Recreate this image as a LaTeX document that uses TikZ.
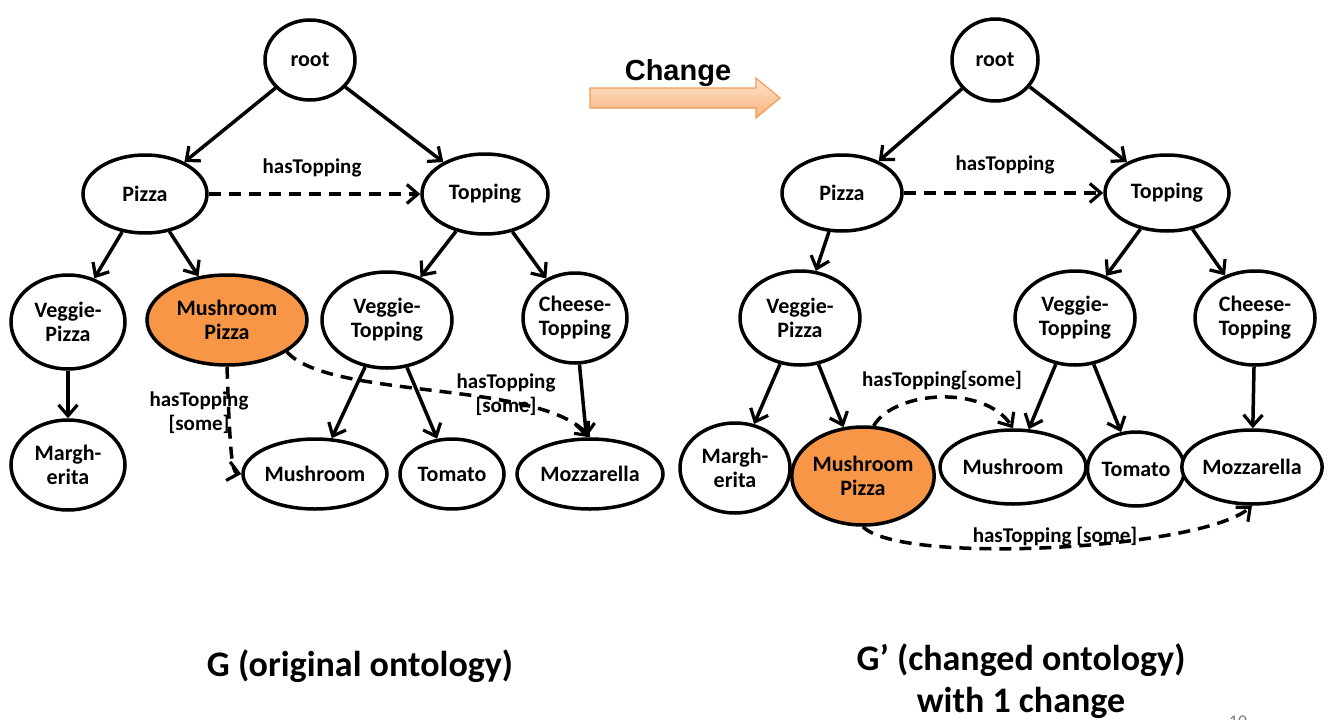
\documentclass[tikz,border=0pt]{standalone}
\usepackage{fontspec}
\setmainfont{Carlito}
\newfontfamily\arialfont{Liberation Sans}
\usetikzlibrary{shapes.geometric,arrows.meta}
\definecolor{mporange}{HTML}{F79646}
\definecolor{arrtop}{HTML}{FDE3CC}
\definecolor{arrbot}{HTML}{F9B47C}
\definecolor{arredge}{HTML}{F19B5A}
\tikzset{
  onode/.style={ellipse,draw=black,line width=3.5pt,fill=white,inner sep=0pt,align=center,
    font=\fontsize{22}{24}\selectfont\bfseries},
  hl/.style={onode,fill=mporange},
  isa/.style={line width=3.5pt,-{Straight Barb[length=11pt,width=19pt,line width=3.2pt]}},
  rel/.style={isa,dash pattern=on 12pt off 8pt},
  lbl/.style={font=\fontsize{21}{24}\selectfont\bfseries,align=center,inner sep=0pt},
  ttl/.style={font=\fontsize{36}{42}\selectfont\bfseries,align=center,inner sep=0pt}
}
\begin{document}
\begin{tikzpicture}[x=1pt,y=-1pt]
\useasboundingbox (0,0) rectangle (1333,720);
\clip (0,0) rectangle (1333,720);
% ---------- left graph ----------
\node[onode,minimum width=90pt,minimum height=80pt] (lroot) at (310,60) {root};
\node[onode,minimum width=124pt,minimum height=78pt] (lpizza) at (145,194) {Pizza};
\node[onode,minimum width=126pt,minimum height=80pt] (ltop) at (485,194) {Topping};
\node[onode,minimum width=114pt,minimum height=94pt] (lvp) at (68,322) {Veggie-\\Pizza};
\node[hl,minimum width=160pt,minimum height=90pt] (lmp) at (227,320) {Mushroom\\Pizza};
\node[onode,minimum width=130pt,minimum height=96pt] (lvt) at (387,320) {Veggie-\\Topping};
\node[onode,minimum width=104pt,minimum height=90pt] (lct) at (575,318) {Cheese-\\Topping};
\node[onode,minimum width=114pt,minimum height=90pt] (lmarg) at (68,465) {Margh-\\erita};
\node[onode,minimum width=144pt,minimum height=70pt] (lmush) at (315,474) {Mushroom};
\node[onode,minimum width=104pt,minimum height=70pt] (ltom) at (452,474) {Tomato};
\node[onode,minimum width=146pt,minimum height=70pt] (lmozz) at (590,474) {Mozzarella};
\draw[isa] (lroot) -- (lpizza);
\draw[isa] (lroot) -- (ltop);
\draw[isa] (lpizza) -- (lvp);
\draw[isa] (lpizza) -- (lmp);
\draw[isa] (ltop) -- (lvt);
\draw[isa] (ltop) -- (lct);
\draw[isa] (lvp) -- (lmarg);
\draw[isa] (lvt) -- (lmush);
\draw[isa] (lvt) -- (ltom);
\draw[isa] (lct) -- (lmozz);
\draw[rel] (lpizza) -- (ltop);
\draw[rel] (lmp.south) .. controls (230,455) and (232,472) .. (lmush.west);
\draw[rel] (lmp.-28) .. controls (330,400) and (540,380) .. (lmozz.north);
\node[lbl] (l1) at (312,168) {hasTopping};
\node[lbl] (l2) at (199,413) {hasTopping\\{}[some]};
\node[lbl] (l3) at (506,395) {hasTopping\\{}[some]};
% ---------- change arrow ----------
\shade[top color=arrtop,bottom color=arrbot,draw=arredge,line width=1.2pt]
  (590,88) -- (756,88) -- (756,78) -- (780,98) -- (756,118) -- (756,108) -- (590,108) -- cycle;
\node[font=\arialfont\fontsize{29}{32}\selectfont\bfseries] (chg) at (678,73) {Change};
% ---------- right graph ----------
\node[onode,minimum width=86pt,minimum height=82pt] (rroot) at (995,60) {root};
\node[onode,minimum width=120pt,minimum height=76pt] (rpizza) at (842,193) {Pizza};
\node[onode,minimum width=124pt,minimum height=76pt] (rtop) at (1167,193) {Topping};
\node[onode,minimum width=120pt,minimum height=94pt] (rvp) at (800,318) {Veggie-\\Pizza};
\node[onode,minimum width=120pt,minimum height=94pt] (rvt) at (1075,318) {Veggie-\\Topping};
\node[onode,minimum width=120pt,minimum height=94pt] (rct) at (1255,318) {Cheese-\\Topping};
\node[onode,minimum width=110pt,minimum height=90pt] (rmarg) at (735,468) {Margh-\\erita};
\node[onode,minimum width=146pt,minimum height=74pt] (rmush) at (1013,467) {Mushroom};
\node[onode,minimum width=94pt,minimum height=74pt] (rtom) at (1136,469) {Tomato};
\node[onode,minimum width=138pt,minimum height=74pt] (rmozz) at (1252,467) {Mozzarella};
\node[hl,minimum width=142pt,minimum height=98pt] (rmp) at (863,476) {Mushroom\\Pizza};
\draw[isa] (rroot) -- (rpizza);
\draw[isa] (rroot) -- (rtop);
\draw[isa] (rpizza) -- (rvp);
\draw[isa] (rtop) -- (rvt);
\draw[isa] (rtop) -- (rct);
\draw[isa] (rvp) -- (rmarg);
\draw[isa] (rvp) -- (rmp);
\draw[isa] (rvt) -- (rmush);
\draw[isa] (rvt) -- (rtom);
\draw[isa] (rct) -- (rmozz);
\draw[rel] (rpizza) -- (rtop);
\draw[rel] (rmp.78) .. controls (895,390) and (985,385) .. (rmush.north);
\draw[rel] (rmp.south) .. controls (900,565) and (1200,550) .. (rmozz.south);
\node[lbl] (r1) at (1005,165) {hasTopping};
\node[lbl] (r2) at (942,381) {hasTopping[some]};
\node[lbl] (r3) at (1055,537) {hasTopping [some]};
% ---------- titles ----------
\node[ttl] (tg) at (360,666) {G (original ontology)};
\node[ttl] (tg2) at (1021,681) {G’ (changed ontology)\\with 1 change};
\node[font=\fontsize{18}{20}\selectfont,text=gray] (pg) at (1238,722) {10};
\end{tikzpicture}
\end{document}
